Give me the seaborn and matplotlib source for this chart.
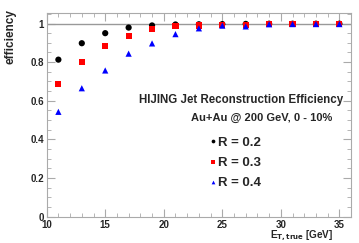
import numpy as np
import pandas as pd
import matplotlib
matplotlib.use("Agg")
import matplotlib.pyplot as plt
import seaborn as sns
from matplotlib.ticker import MultipleLocator, FuncFormatter

# jet E_T bins (GeV) and efficiencies
et_true = [11, 13, 15, 17, 19, 21, 23, 25, 27, 29, 31, 33, 35]
eff_r02 = [0.813, 0.898, 0.950, 0.979, 0.990, 0.995, 0.996, 0.997, 0.998, 0.999, 0.999, 0.999, 0.999]
eff_r03 = [0.689, 0.799, 0.885, 0.937, 0.970, 0.987, 0.990, 0.993, 0.994, 0.997, 0.998, 0.998, 0.998]
eff_r04 = [0.543, 0.665, 0.757, 0.844, 0.897, 0.945, 0.975, 0.989, 0.985, 0.996, 0.997, 0.997, 0.997]
radii = ["R = 0.2", "R = 0.3", "R = 0.4"]

df = pd.DataFrame({
    "et": et_true * 3,
    "eff": eff_r02 + eff_r03 + eff_r04,
    "R": [radii[0]] * 13 + [radii[1]] * 13 + [radii[2]] * 13,
})

sns.set_style("ticks")
plt.rcParams['font.family'] = ['Liberation Sans', 'DejaVu Sans']
plt.rcParams['font.weight'] = 'bold'

fig = plt.figure(figsize=(3.59, 2.43), dpi=100)
ax = fig.add_axes([0.130, 0.108, 0.848, 0.839])

ax.axhline(1.0, color='#999999', lw=1.0, zorder=1)

sns.scatterplot(data=df, x="et", y="eff", hue="R", style="R",
                palette=["black", "red", "blue"], markers=["o", "s", "^"],
                s=20, edgecolor='none', ax=ax, zorder=3, legend=True)

ax.set_xlim(10, 36)
ax.set_ylim(0, 1.055)
ax.xaxis.set_major_locator(MultipleLocator(5))
ax.xaxis.set_minor_locator(MultipleLocator(1))
ax.yaxis.set_major_locator(MultipleLocator(0.2))
ax.yaxis.set_minor_locator(MultipleLocator(0.05))
ax.yaxis.set_major_formatter(FuncFormatter(lambda v, p: "%g" % round(v, 2)))
ax.tick_params(which='both', direction='in', top=True, right=True,
               color='#aaaaaa', labelsize=7, pad=2)
ax.tick_params(which='major', length=5.5)
ax.tick_params(which='minor', length=2.8)
for sp in ax.spines.values():
    sp.set_color('#aaaaaa')
    sp.set_linewidth(0.8)

ax.set_xlabel(r"E$_{\mathbf{T,true}}$ [GeV]", fontsize=7.2, fontweight='bold')
ax.xaxis.set_label_coords(0.942, -0.06)
ax.xaxis.label.set_ha('right')
ax.xaxis.label.set_va('top')
ax.set_ylabel("efficiency", fontsize=8.5, fontweight='bold')
ax.yaxis.set_label_coords(-0.14, 1.02)
ax.yaxis.label.set_va('top')
ax.yaxis.label.set_ha('right')

ax.text(0.974, 0.575, "HIJING Jet Reconstruction Efficiency", transform=ax.transAxes,
        ha='right', va='center', fontsize=8.3, fontweight='bold')
ax.text(0.937, 0.485, "Au+Au @ 200 GeV, 0 - 10%", transform=ax.transAxes,
        ha='right', va='center', fontsize=8, fontweight='bold')

handles, labels = ax.get_legend_handles_labels()
leg = ax.legend(handles, labels, loc='upper left', bbox_to_anchor=(0.525, 0.405),
                frameon=False, prop={'size': 9.5, 'weight': 'bold'},
                handletextpad=0.1, labelspacing=0.6, markerscale=0.6,
                handlelength=0.6, borderaxespad=0, borderpad=0.2)

fig.savefig("out.png", dpi=100)
